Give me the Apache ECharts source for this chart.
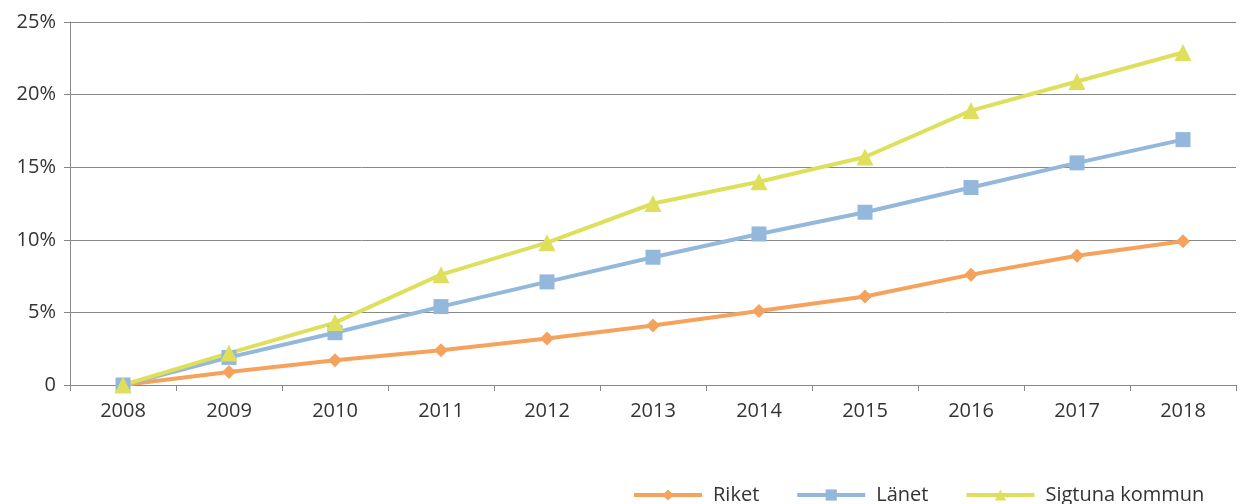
<!DOCTYPE html>
<html><head><meta charset="utf-8">
<script src="https://cdn.jsdelivr.net/npm/echarts@6/dist/echarts.min.js"></script>
<style>html,body{margin:0;padding:0;background:#fff}#c{width:1240px;height:504px}</style>
</head><body><div id="c"></div>
<script>
const years = ['2008','2009','2010','2011','2012','2013','2014','2015','2016','2017','2018'];
const riket = [0, 0.9, 1.7, 2.4, 3.2, 4.1, 5.1, 6.1, 7.6, 8.9, 9.9];
const lanet = [0, 1.9, 3.6, 5.4, 7.1, 8.8, 10.4, 11.9, 13.6, 15.3, 16.9];
const sigtuna = [0, 2.2, 4.3, 7.6, 9.8, 12.5, 14.0, 15.7, 18.9, 20.9, 22.9];
const font = '"Open Sans", "Noto Sans", sans-serif';
const chart = echarts.init(document.getElementById('c'));
function s(name, data, color, symbol, size){
  return {name, type:'line', data, symbol, symbolSize:size, showSymbol:true,
    lineStyle:{color, width:4}, itemStyle:{color}, z: 2};
}
chart.setOption({
  animation:false,
  grid:{left:70, right:4, top:22, bottom:119},
  legend:{left:627, top:480, itemWidth:68, itemHeight:14, itemGap:36,
    lineStyle:{width:4},
    textStyle:{fontFamily:font, fontSize:20, color:'#333', padding:[0,0,0,6]},
    data:['Riket','Länet','Sigtuna kommun']},
  xAxis:{type:'category', data:years, boundaryGap:true,
    axisLine:{lineStyle:{color:'#888', width:1}},
    axisTick:{show:true, length:6, lineStyle:{color:'#888'}},
    axisLabel:{fontFamily:font, fontSize:20, color:'#333', margin:16}},
  yAxis:{type:'value', min:0, max:25, interval:5,
    axisLine:{show:true, lineStyle:{color:'#888'}},
    axisTick:{show:true, length:6, lineStyle:{color:'#888'}},
    splitLine:{lineStyle:{color:'#888', width:1}},
    axisLabel:{fontFamily:font, fontSize:20, color:'#333', margin:14,
      formatter: v => v===0 ? '0' : v + '%'}},
  series:[
    s('Riket', riket, '#F5A25C', 'diamond', 14),
    s('Länet', lanet, '#94B7DC', 'rect', 15),
    s('Sigtuna kommun', sigtuna, '#DEE05C', 'triangle', 17)
  ]
});
</script></body></html>
